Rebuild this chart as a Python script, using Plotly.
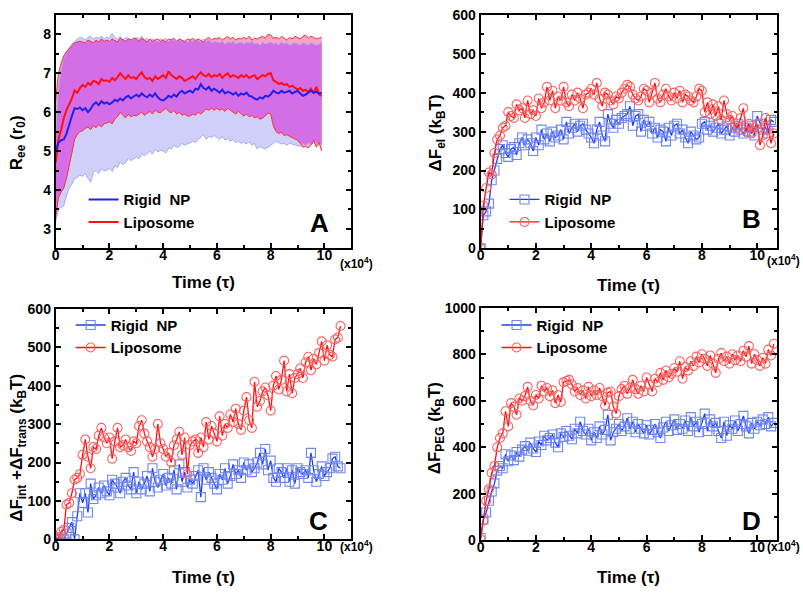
import numpy as np
import plotly.graph_objects as go

# ---------------- Panel A data (Ree vs time, x10^4 tau) ----------------
tA = np.round(np.arange(100) * 0.1, 2)
lipo_mean = [4.70, 5.30, 5.55, 5.85, 6.05, 6.20, 6.35, 6.55, 6.50, 6.62,
             6.70, 6.65, 6.75, 6.70, 6.80, 6.78, 6.72, 6.85, 6.80, 6.82,
             6.78, 6.88, 6.82, 6.90, 7.00, 6.92, 6.85, 6.95, 6.88, 6.90,
             6.85, 6.95, 7.02, 6.90, 6.85, 6.88, 6.80, 6.92, 6.85, 6.90,
             6.95, 6.88, 7.05, 6.95, 6.90, 6.85, 6.92, 6.88, 6.80, 6.85,
             6.88, 6.92, 6.85, 6.95, 7.02, 6.95, 6.92, 6.98, 6.90, 6.95,
             6.92, 6.98, 6.88, 6.95, 7.00, 6.90, 6.95, 6.92, 6.88, 6.95,
             6.90, 6.95, 6.88, 6.92, 6.95, 6.85, 6.90, 6.95, 6.92, 6.98,
             7.00, 6.82, 6.78, 6.72, 6.75, 6.70, 6.72, 6.65, 6.68, 6.62,
             6.58, 6.62, 6.55, 6.58, 6.52, 6.60, 6.48, 6.65, 6.45, 6.42]
rigid_mean = [5.00, 5.22, 5.28, 5.30, 5.45, 5.70, 5.90, 6.10, 6.08, 6.12,
              6.05, 6.10, 6.00, 6.08, 6.20, 6.25, 6.18, 6.28, 6.22, 6.25,
              6.20, 6.25, 6.32, 6.28, 6.35, 6.30, 6.38, 6.42, 6.35, 6.40,
              6.45, 6.40, 6.48, 6.42, 6.38, 6.45, 6.40, 6.48, 6.38, 6.32,
              6.30, 6.35, 6.42, 6.38, 6.45, 6.40, 6.50, 6.55, 6.48, 6.52,
              6.55, 6.50, 6.60, 6.58, 6.72, 6.62, 6.58, 6.65, 6.55, 6.60,
              6.55, 6.50, 6.58, 6.48, 6.52, 6.50, 6.45, 6.50, 6.42, 6.48,
              6.45, 6.50, 6.42, 6.40, 6.35, 6.32, 6.38, 6.35, 6.42, 6.40,
              6.45, 6.55, 6.50, 6.48, 6.55, 6.50, 6.52, 6.55, 6.48, 6.52,
              6.55, 6.48, 6.42, 6.45, 6.50, 6.55, 6.50, 6.52, 6.48, 6.50]
rigid_upper = [5.50, 6.60, 7.10, 7.40, 7.55, 7.65, 7.75, 7.80, 7.88, 7.92,
               7.90, 7.85, 7.92, 7.95, 7.88, 7.92, 7.90, 7.95, 7.88, 7.92,
               7.90, 8.02, 7.92, 7.88, 7.95, 7.85, 7.92, 7.90, 7.85, 7.88,
               7.92, 7.88, 7.95, 7.85, 7.90, 7.82, 7.88, 7.85, 7.80, 7.88,
               7.85, 7.90, 7.82, 7.88, 7.85, 7.80, 7.88, 7.82, 7.85, 7.80,
               7.85, 7.82, 7.88, 7.85, 7.80, 7.88, 7.82, 7.85, 7.78, 7.82,
               7.80, 7.78, 7.82, 7.75, 7.80, 7.78, 7.82, 7.75, 7.78, 7.80,
               7.75, 7.80, 7.78, 7.82, 7.75, 7.78, 7.72, 7.80, 7.75, 7.78,
               7.80, 7.75, 7.78, 7.72, 7.80, 7.75, 7.78, 7.72, 7.75, 7.78,
               7.75, 7.72, 7.78, 7.75, 7.72, 7.78, 7.75, 7.72, 7.75, 7.78]
lipo_upper = [6.30, 7.00, 7.25, 7.45, 7.55, 7.62, 7.70, 7.78, 7.80, 7.82,
              7.80, 7.78, 7.85, 7.82, 7.78, 7.85, 7.80, 7.88, 7.82, 7.85,
              7.82, 7.88, 7.85, 7.80, 7.90, 7.85, 7.82, 7.88, 7.85, 7.90,
              7.88, 7.82, 7.90, 7.85, 7.80, 7.88, 7.82, 7.85, 7.88, 7.82,
              7.85, 7.80, 7.88, 7.85, 7.90, 7.82, 7.88, 7.85, 7.80, 7.88,
              7.85, 7.90, 7.82, 7.88, 7.85, 7.80, 7.88, 7.92, 7.85, 7.90,
              7.88, 7.92, 7.85, 7.90, 7.95, 7.88, 7.92, 7.85, 7.90, 7.88,
              7.92, 7.88, 7.95, 7.85, 7.90, 7.88, 7.92, 7.95, 7.90, 8.00,
              7.98, 7.90, 7.92, 7.88, 7.95, 7.90, 7.85, 7.92, 7.88, 7.95,
              7.92, 7.88, 7.95, 7.98, 7.90, 7.95, 7.92, 7.88, 7.90, 7.92]
rigid_lower = [3.20, 3.50, 3.55, 3.60, 3.85, 4.05, 4.15, 4.30, 4.32, 4.38,
               4.35, 4.42, 4.30, 4.20, 4.45, 4.50, 4.42, 4.55, 4.48, 4.52,
               4.55, 4.48, 4.62, 4.58, 4.72, 4.65, 4.70, 4.82, 4.75, 4.80,
               4.85, 4.80, 4.92, 4.88, 4.95, 5.00, 4.92, 5.05, 4.98, 5.02,
               5.00, 4.95, 5.08, 5.05, 5.15, 5.10, 5.12, 5.20, 5.15, 5.18,
               5.20, 5.25, 5.22, 5.30, 5.35, 5.42, 5.30, 5.38, 5.35, 5.40,
               5.35, 5.30, 5.38, 5.28, 5.32, 5.25, 5.30, 5.22, 5.25, 5.20,
               5.22, 5.18, 5.25, 5.15, 5.20, 5.05, 5.12, 5.08, 5.05, 5.10,
               5.15, 5.20, 5.25, 5.22, 5.18, 5.20, 5.15, 5.20, 5.18, 5.15,
               5.15, 5.12, 5.18, 5.15, 5.20, 5.18, 5.22, 5.20, 5.18, 5.15]
lipo_lower = [3.30, 3.80, 3.95, 4.05, 4.30, 4.60, 4.95, 5.30, 5.42, 5.50,
              5.52, 5.58, 5.62, 5.55, 5.65, 5.60, 5.68, 5.62, 5.70, 5.72,
              5.75, 5.70, 5.82, 5.88, 6.00, 5.92, 5.85, 5.95, 5.88, 5.92,
              5.90, 5.95, 6.00, 5.92, 5.98, 6.02, 5.95, 6.05, 6.00, 5.98,
              6.05, 6.10, 6.02, 5.98, 6.05, 5.95, 6.00, 5.92, 5.95, 5.90,
              5.90, 5.95, 5.92, 6.00, 5.95, 6.02, 6.08, 6.05, 6.10, 6.05,
              6.10, 6.05, 6.08, 6.02, 6.10, 6.05, 6.00, 5.95, 6.02, 5.95,
              5.90, 5.95, 5.88, 5.92, 5.85, 5.88, 5.82, 5.85, 5.90, 5.98,
              5.95, 5.65, 5.50, 5.45, 5.48, 5.40, 5.42, 5.38, 5.35, 5.30,
              5.28, 5.20, 5.10, 5.12, 5.08, 5.15, 5.28, 5.10, 5.22, 5.00]

# ---------------- Panels B-D data ----------------
tB = np.round(np.arange(107) * 0.1, 2)
B_lipo = [0, 110, 155, 195, 190, 245, 280, 290, 310, 315,
          350, 340, 335, 370, 355, 360, 335, 380, 345, 355,
          340, 385, 360, 375, 415, 380, 405, 360, 390, 380,
          415, 375, 365, 395, 380, 400, 385, 360, 395, 400,
          410, 395, 425, 385, 365, 400, 395, 380, 370, 390,
          385, 400, 410, 420, 415, 395, 385, 380, 390, 410,
          405, 375, 400, 425, 385, 375, 395, 410, 390, 380,
          400, 385, 405, 375, 395, 390, 380, 375, 390, 410,
          405, 350, 375, 345, 370, 340, 365, 330, 380, 345,
          330, 340, 315, 310, 335, 360, 300, 320, 295, 310,
          320, 265, 290, 335, 305, 270, 295]
B_rigid = [0, 85, 95, 115, 175, 200, 230, 255, 265, 245,
           235, 255, 260, 240, 270, 285, 265, 280, 270, 250,
           285, 265, 305, 280, 295, 275, 300, 285, 290, 305,
           280, 325, 295, 310, 320, 300, 315, 320, 305, 295,
           285, 270, 305, 325, 290, 275, 345, 320, 310, 330,
           320, 335, 340, 345, 365, 315, 340, 345, 300, 330,
           315, 325, 295, 310, 285, 305, 300, 275, 310, 290,
           315, 320, 295, 305, 285, 270, 300, 290, 280, 285,
           320, 325, 305, 315, 300, 310, 320, 295, 305, 315,
           290, 310, 300, 320, 305, 295, 310, 300, 315, 290,
           340, 320, 305, 310, 295, 330, 325]
C_lipo = [0, 5, 20, 25, 90, 95, 120, 155, 160, 170,
          220, 260, 215, 185, 240, 235, 270, 290, 265, 250,
          265, 210, 255, 290, 240, 245, 260, 240, 230, 255,
          250, 295, 310, 275, 255, 240, 215, 235, 300, 250,
          235, 215, 225, 200, 245, 260, 280, 220, 265, 170,
          245, 255, 260, 225, 265, 240, 305, 260, 295, 275,
          255, 320, 270, 300, 290, 325, 305, 340, 300, 285,
          335, 370, 310, 290, 410, 345, 360, 385, 395, 375,
          335, 400, 425, 390, 415, 465, 385, 430, 380, 420,
          430, 445, 420, 460, 475, 440, 470, 455, 485, 515,
          465, 505, 480, 475, 520, 525, 555]
C_rigid = [0, 0, 5, 0, 15, 30, 45, 0, 60, 120,
           95, 120, 70, 145, 105, 115, 135, 120, 140, 125,
           115, 155, 145, 135, 120, 150, 160, 140, 130, 175,
           120, 150, 130, 145, 165, 125, 185, 150, 135, 155,
           170, 140, 160, 145, 180, 130, 195, 150, 175, 135,
           155, 145, 165, 180, 110, 185, 155, 175, 160, 145,
           130, 170, 155, 185, 145, 165, 195, 170, 180, 160,
           200, 180, 195, 175, 185, 200, 225, 195, 235, 180,
           205, 160, 150, 185, 175, 160, 185, 150, 180, 145,
           185, 175, 170, 180, 160, 225, 180, 150, 170, 190,
           165, 175, 185, 210, 215, 190, 185]
D_lipo = [5, 85, 170, 220, 290, 320, 400, 440, 460, 555,
          490, 590, 575, 540, 610, 600, 620, 660, 600, 580,
          625, 610, 665, 640, 655, 620, 645, 590, 625, 595,
          680, 685, 690, 670, 640, 655, 625, 645, 610, 660,
          620, 645, 625, 655, 620, 580, 635, 640, 575, 545,
          620, 650, 665, 630, 655, 690, 650, 630, 665, 640,
          700, 670, 640, 695, 680, 720, 690, 730, 700, 715,
          740, 725, 770, 695, 745, 730, 770, 750, 790, 765,
          800, 780, 750, 795, 760, 720, 780, 805, 770, 790,
          760, 800, 775, 795, 770, 815, 790, 835, 760, 800,
          775, 750, 785, 760, 820, 795, 845]
D_rigid = [10, 90, 120, 170, 210, 245, 300, 320, 310, 370,
           340, 365, 345, 380, 360, 390, 405, 385, 420, 395,
           380, 425, 410, 450, 430, 440, 455, 420, 400, 460,
           445, 470, 450, 435, 480, 460, 510, 470, 455, 480,
           430, 465, 440, 490, 455, 475, 540, 430, 465, 480,
           500, 470, 490, 525, 480, 510, 465, 500, 480, 460,
           495, 455, 475, 500, 465, 440, 485, 510, 470, 495,
           520, 475, 500, 480, 515, 470, 530, 490, 510, 465,
           500, 545, 470, 520, 490, 505, 470, 440, 510, 450,
           495, 480, 515, 470, 500, 535, 490, 460, 505, 480,
           510, 495, 520, 500, 530, 490, 505]

x_ticks = [0, 2, 4, 6, 8, 10]
series_names = ["Rigid\u00a0 NP", "Liposome"]

# ---------------- Styles ----------------
FONT = "Liberation Sans, Arial, sans-serif"
W, H = 803, 598
BLUE_LINE = "#1f3cf0"
BLUE_MK = "#6f86f2"
RED_LINE = "#ff1010"
RED_MK = "#ff6060"
BAND_BLUE = "#cfcff7"
BAND_PINK = "#f6a4c8"
BAND_OVER = "#d46ee6"

def px_x(p):
    return p / W

def px_y(p):
    return (H - p) / H

fig = go.Figure()

# ---- Panel A ----
rl = np.array(rigid_lower); ru = np.array(rigid_upper)
ll = np.array(lipo_lower); lu = np.array(lipo_upper)
ov_lo = np.maximum(rl, ll); ov_hi = np.minimum(ru, lu)

def band(lo, hi, color, xa, ya):
    fig.add_trace(go.Scatter(x=tA, y=lo, mode="lines", line=dict(width=0, color=color),
                             showlegend=False, hoverinfo="skip", xaxis=xa, yaxis=ya))
    fig.add_trace(go.Scatter(x=tA, y=hi, mode="lines", line=dict(width=0, color=color),
                             fill="tonexty", fillcolor=color, showlegend=False,
                             hoverinfo="skip", xaxis=xa, yaxis=ya))

band(rl, ru, BAND_BLUE, "x", "y")
band(ll, lu, BAND_PINK, "x", "y")
band(ov_lo, ov_hi, BAND_OVER, "x", "y")
for arr, col, wd in [(rl, "#a9a9f2", 1), (ru, "#a9a9f2", 1), (ll, "#ff3030", 1), (lu, "#ff3030", 1)]:
    fig.add_trace(go.Scatter(x=tA, y=arr, mode="lines", line=dict(width=wd, color=col),
                             showlegend=False, hoverinfo="skip", xaxis="x", yaxis="y"))
fig.add_trace(go.Scatter(x=tA, y=lipo_mean, mode="lines", line=dict(width=2, color=RED_LINE),
                         showlegend=False, xaxis="x", yaxis="y"))
fig.add_trace(go.Scatter(x=tA, y=rigid_mean, mode="lines", line=dict(width=2, color="#2020e8"),
                         name=series_names[0], legend="legend", xaxis="x", yaxis="y"))
fig.add_trace(go.Scatter(x=[None], y=[None], mode="lines", line=dict(width=2, color=RED_LINE),
                         name=series_names[1], legend="legend", xaxis="x", yaxis="y"))

# ---- Panels B, C, D ----
panels = [("x2", "y2", "legend2", B_rigid, B_lipo),
          ("x3", "y3", "legend3", C_rigid, C_lipo),
          ("x4", "y4", "legend4", D_rigid, D_lipo)]
for xa, ya, lg, rig, lip in panels:
    fig.add_trace(go.Scatter(x=tB, y=rig, mode="lines+markers", name=series_names[0],
                             line=dict(color=BLUE_LINE, width=1.3),
                             marker=dict(symbol="square-open", size=9, color=BLUE_MK, line=dict(width=1.1)),
                             legend=lg, xaxis=xa, yaxis=ya))
    fig.add_trace(go.Scatter(x=tB, y=lip, mode="lines+markers", name=series_names[1],
                             line=dict(color=RED_LINE, width=1.3),
                             marker=dict(symbol="circle-open", size=9, color=RED_MK, line=dict(width=1.1)),
                             legend=lg, xaxis=xa, yaxis=ya))

# ---- Axes ----
tickfont = dict(family=FONT, size=14, color="black", weight="bold")

def axis(domain, rng, dtick, minor_dtick, anchor, tickvals=None, standoff=0):
    d = dict(domain=domain, range=rng, anchor=anchor, showline=True, linecolor="black",
             linewidth=2, mirror="ticks", ticks="inside", ticklen=5, tickwidth=1.5,
             tickcolor="black", showgrid=False, zeroline=False, tickfont=tickfont,
             ticklabelstandoff=standoff,
             minor=dict(ticks="inside", ticklen=3, tickwidth=1.5, tickcolor="black",
                        dtick=minor_dtick, showgrid=False),
             fixedrange=True)
    if tickvals is not None:
        d["tickvals"] = tickvals
    else:
        d["dtick"] = dtick
        d["tick0"] = 0
    return d

xdL = [px_x(52), px_x(349)]
xdR = [px_x(479), px_x(777)]
ydT = [px_y(247), px_y(7)]
ydB = [px_y(546), px_y(309)]
XS = -7

layout = dict(
    width=W, height=H, margin=dict(l=0, r=0, t=0, b=0),
    paper_bgcolor="white", plot_bgcolor="white",
    font=dict(family=FONT, color="black"),
    xaxis=axis(xdL, [0, 11], 2, 1, "y", x_ticks, XS),
    yaxis=axis(ydT, [2.5, 8.5], 1, 0.5, "x"),
    xaxis2=axis(xdR, [0, 10.72], 2, 1, "y2", x_ticks, XS),
    yaxis2=axis(ydT, [0, 600], 100, 50, "x2"),
    xaxis3=axis(xdL, [0, 11], 2, 1, "y3", x_ticks, XS),
    yaxis3=axis(ydB, [0, 600], 100, 50, "x3"),
    xaxis4=axis(xdR, [0, 10.72], 2, 1, "y4", x_ticks, XS),
    yaxis4=axis([px_y(547), px_y(308)], [0, 1000], 200, 100, "x4"),
)

legfont = dict(family=FONT, size=15, color="black", weight="bold")
def leg(xp, yp):
    return dict(x=px_x(xp), y=px_y(yp), xanchor="left", yanchor="top", font=legfont,
                bgcolor="rgba(0,0,0,0)", borderwidth=0, itemwidth=30, tracegroupgap=0,
                traceorder="normal")
layout["legend"] = leg(80, 180)
layout["legend2"] = leg(503, 180)
layout["legend3"] = leg(67, 309)
layout["legend4"] = leg(495, 309)
fig.update_layout(**layout)

# ---- Annotations (titles, letters, multipliers) ----
ann = []
tf = dict(family=FONT, size=17, color="black", weight="bold")
def A(x, y, text, font, angle=0, xanchor="center"):
    ann.append(dict(x=px_x(x), y=px_y(y), xref="paper", yref="paper", text=text, showarrow=False,
                    font=font, textangle=angle, xanchor=xanchor, yanchor="middle"))

A(201, 282, "Time (\u03c4)", tf)
A(628, 285, "Time (\u03c4)", tf)
A(200, 585, "Time (\u03c4)", tf)
A(628, 585, "Time (\u03c4)", tf)
A(14, 138, "R<sub>ee</sub> (r<sub>0</sub>)", tf, -90)
A(435, 128, "\u0394F<sub>el</sub> (k<sub>B</sub>T)", tf, -90)
A(14, 452, "\u0394F<sub>int</sub> +\u0394F<sub>trans</sub> (k<sub>B</sub>T)", tf, -90)
A(435, 432, "\u0394F<sub>PEG</sub> (k<sub>B</sub>T)", tf, -90)
mf = dict(family=FONT, size=12, color="black", weight="bold")
A(336, 262, "(x10<sup>4</sup>)", mf, xanchor="left")
A(765, 259, "(x10<sup>4</sup>)", mf, xanchor="left")
A(336, 553, "(x10<sup>4</sup>)", mf, xanchor="left")
A(765, 553, "(x10<sup>4</sup>)", mf, xanchor="left")
lf = dict(family=FONT, size=26, color="black", weight="bold")
A(317, 221, "A", lf)
A(751, 217, "B", lf)
A(316, 527, "C", lf)
A(751, 527, "D", lf)
fig.update_layout(annotations=ann)

fig.write_html("out.html", config={"displayModeBar": False},
               post_script="document.body.style.margin='0';document.body.style.padding='0';")
